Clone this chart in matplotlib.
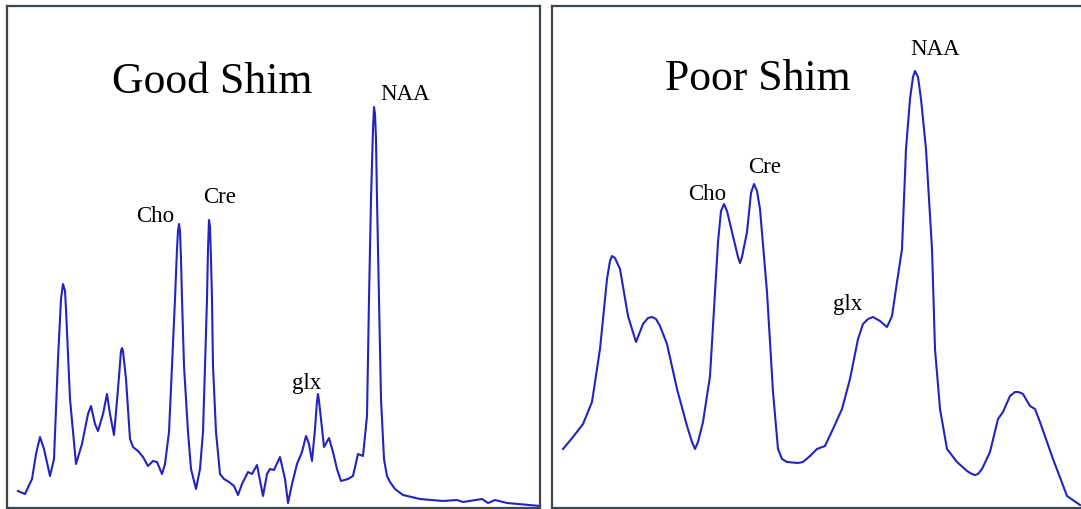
import matplotlib
matplotlib.use("Agg")
import matplotlib.pyplot as plt

W, H = 1081, 510

# ---- Good shim spectrum (x position, intensity) ----
good_x = [18, 25, 32, 36, 40, 44, 50, 54, 58, 61, 63, 65, 66, 70, 76, 82, 88, 91, 95, 98, 103, 107,
          110, 114, 118, 121, 122, 123, 126, 130, 133, 138, 143, 148, 153, 157, 162, 165, 169, 172,
          175, 177, 178, 179, 180, 181, 182, 184, 188, 191, 196, 200, 203, 205, 207, 208, 209, 210,
          211, 212, 213, 216, 220, 224, 229, 234, 238, 242, 248, 252, 257, 263, 267, 270, 274,
          280, 285, 288, 292, 297, 302, 306, 309, 312, 315, 317, 318, 319, 321, 324, 329, 333, 337,
          341, 348, 353, 358, 363, 367, 369, 371, 373, 374, 375, 376, 377, 379, 381, 384, 387,
          390, 395, 403, 420, 443, 457, 463, 482, 488, 495, 507, 540]
good_y_px = [492, 495, 480, 455, 438, 450, 477, 460, 360, 300, 285, 292, 310, 400, 465, 445, 415, 407,
             425, 432, 415, 395, 415, 436, 390, 352, 349, 352, 380, 440, 448, 452, 458, 467, 462, 463,
             475, 465, 433, 367, 300, 250, 232, 225, 232, 260, 300, 367, 433, 470, 490, 470, 433, 367,
             300, 250, 221, 228, 260, 300, 367, 433, 475, 480, 483, 487, 496, 485, 473, 475, 466,
             497, 475, 470, 471, 458, 480, 504, 485, 465, 453, 437, 445, 462, 430, 402, 395, 402, 420,
             448, 439, 453, 470, 482, 480, 477, 455, 457, 417, 300, 200, 130, 108, 115, 140, 200,
             300, 400, 460, 477, 483, 490, 496, 500, 502, 501, 503, 500, 504, 501, 504, 507]

# ---- Poor shim spectrum ----
poor_x = [563, 573, 583, 592, 600, 607, 610, 612, 615, 620, 628, 636, 643, 648, 652, 656, 660, 667,
          677, 687, 692, 695, 698, 703, 710, 713, 718, 721, 724, 727, 732, 738, 740, 742, 747, 751,
          754, 757, 760, 767, 773, 778, 782, 787, 798, 803, 810, 817, 825, 833, 842, 850, 858,
          863, 868, 873, 880, 887, 892, 897, 902, 906, 910, 913, 915, 918, 921, 926, 932, 935,
          940, 947, 957, 967, 972, 975, 978, 982, 990, 998, 1003, 1010, 1015, 1018, 1021, 1023,
          1030, 1035, 1040, 1053, 1067, 1080]
poor_y_px = [450, 438, 425, 403, 350, 280, 262, 257, 259, 270, 317, 343, 325, 319, 318, 320, 327, 345,
             390, 427, 443, 450, 443, 423, 377, 327, 243, 212, 205, 212, 233, 258, 264, 258, 233, 194,
             185, 192, 210, 293, 393, 450, 460, 463, 464, 463, 457, 450, 447, 430, 410, 380, 340,
             325, 320, 318, 322, 328, 317, 283, 250, 150, 100, 78, 72, 78, 100, 150, 250, 350,
             410, 450, 463, 472, 475, 476, 475, 470, 453, 420, 413, 397, 393, 393, 394, 395,
             407, 410, 423, 460, 497, 506]

good_int = [H - v for v in good_y_px]
poor_int = [H - v for v in poor_y_px]

# ---- Labels ----
titles = ["Good Shim", "Poor Shim"]
good_labels = ["Cho", "Cre", "glx", "NAA"]
good_label_x = [136, 203, 292, 380]
good_label_base = [222, 203, 389, 100]
poor_labels = ["Cho", "Cre", "glx", "NAA"]
poor_label_x = [688, 748, 833, 910]
poor_label_base = [200, 173, 310, 55]

LINE = "#2323c0"
FRAME = "#3d4551"
SERIF = ["Liberation Serif", "DejaVu Serif"]

fig = plt.figure(figsize=(W / 100, H / 100), dpi=100)

def make_ax(x0, x1, y_top, y_bot):
    ax = fig.add_axes([x0 / W, (H - y_bot) / H, (x1 - x0) / W, (y_bot - y_top) / H])
    ax.set_xlim(x0, x1)
    ax.set_ylim(H - y_bot, H - y_top)
    ax.set_xticks([])
    ax.set_yticks([])
    for s in ax.spines.values():
        s.set_color(FRAME)
        s.set_linewidth(1.6)
    ax.patch.set_alpha(0)
    return ax

axL = make_ax(7, 540, 7, 508.5)
axR = make_ax(552, 1090, 7, 508.5)

axL.plot(good_x, good_int, color=LINE, lw=1.5, solid_joinstyle="round")
axR.plot(poor_x, poor_int, color=LINE, lw=1.5, solid_joinstyle="round")

axL.text(112, H - 93, titles[0], fontsize=31.5, family=SERIF, va="baseline", ha="left")
axR.text(665, H - 90, titles[1], fontsize=31.5, family=SERIF, va="baseline", ha="left")

for lab, lx, lb in zip(good_labels, good_label_x, good_label_base):
    axL.text(lx, H - lb, lab, fontsize=16.5, family=SERIF, va="baseline", ha="left")
for lab, lx, lb in zip(poor_labels, poor_label_x, poor_label_base):
    axR.text(lx, H - lb, lab, fontsize=16.5, family=SERIF, va="baseline", ha="left")

fig.savefig("out.png", dpi=100)
